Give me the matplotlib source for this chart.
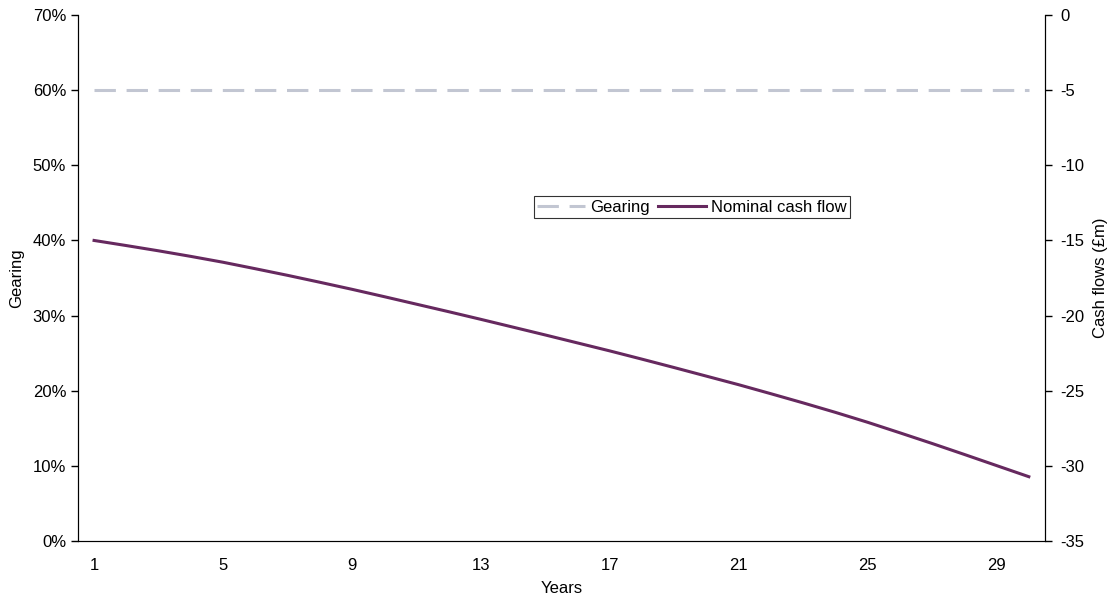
import numpy as np
import matplotlib.pyplot as plt
from matplotlib.ticker import PercentFormatter

plt.rcParams['font.family'] = ['Liberation Sans', 'DejaVu Sans']
plt.rcParams['font.size'] = 12
plt.rcParams['axes.unicode_minus'] = False

years = np.arange(1, 31)
gearing = [0.60] * 30
cash_flow = [-15.00, -15.34, -15.69, -16.06, -16.45, -16.88, -17.32, -17.78, -18.25, -18.74,
             -19.24, -19.74, -20.25, -20.77, -21.29, -21.82, -22.35, -22.90, -23.46, -24.03,
             -24.60, -25.20, -25.81, -26.44, -27.10, -27.80, -28.51, -29.24, -29.98, -30.72]
year_ticks = [1, 5, 9, 13, 17, 21, 25, 29]

fig = plt.figure(figsize=(11.12, 6.01), dpi=100)
ax = fig.add_axes([0.0701, 0.0998, 0.8696, 0.8752])
ax2 = ax.twinx()

# gearing on the left axis, cash flows on the right
l1, = ax.plot(years, gearing, color='#C2C6D2', lw=2.2, dashes=(7, 3.5), label='Gearing')
l2, = ax2.plot(years, cash_flow, color='#66295F', lw=2.2, label='Nominal cash flow')

ax.set_xlim(0.5, 30.5)
ax.set_ylim(0, 0.70)
ax.set_yticks(np.arange(0, 0.71, 0.10))
ax.yaxis.set_major_formatter(PercentFormatter(1.0, decimals=0))
ax2.set_ylim(-35, 0)
ax2.set_yticks(np.arange(-35, 1, 5))

ax.set_xticks(year_ticks)
ax.tick_params(axis='x', length=0, pad=12)
ax.tick_params(axis='y', length=5, width=1, direction='out')
ax2.tick_params(axis='y', length=5, width=1, direction='out', pad=6)

for a in (ax, ax2):
    a.spines['top'].set_visible(False)
ax.spines['bottom'].set_color('#404040')

ax.set_xlabel('Years', labelpad=6)
ax.set_ylabel('Gearing', labelpad=6)
ax2.set_ylabel('Cash flows (£m)', labelpad=6)

leg = ax2.legend(handles=[l1, l2], ncol=2, loc='center', bbox_to_anchor=(0.635, 0.635),
                 frameon=True, fancybox=False, edgecolor='black', handlelength=2.9,
                 handletextpad=0.3, columnspacing=0.5, borderpad=0.2, borderaxespad=0)
leg.get_frame().set_linewidth(0.8)

fig.savefig('out.png', dpi=100)
